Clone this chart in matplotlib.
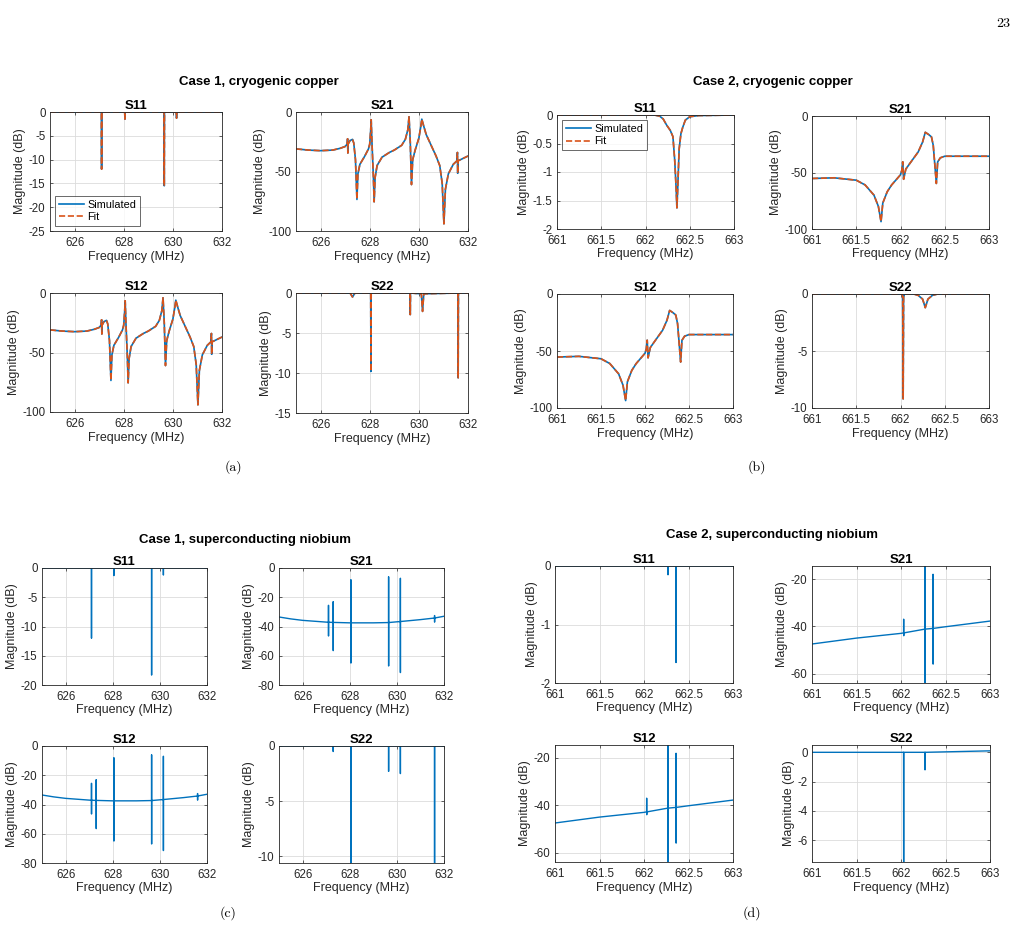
import matplotlib
matplotlib.use("Agg")
import matplotlib.pyplot as plt
from matplotlib.ticker import FuncFormatter

plt.rcParams['font.family'] = ['Liberation Sans', 'DejaVu Sans']
plt.rcParams['axes.unicode_minus'] = False

BLUE = '#0072BD'
ORANGE = '#D95319'
W, H = 1018, 932

# ---- Case 1, cryogenic copper ----
s11_cu1_f = [625.0, 627.09, 627.10, 627.11, 628.04, 628.05, 628.06, 629.64, 629.65, 629.66,
             630.14, 630.15, 630.16, 632.0]
s11_cu1_db = [0, 0, -12.0, 0, 0, -1.5, 0, 0, -15.5, 0, 0, -1.3, 0, 0]

s21_cu1_f = [625.0, 625.5, 626.0, 626.5, 626.8, 627.0, 627.08, 627.1, 627.11, 627.12, 627.2,
             627.3, 627.35, 627.42, 627.48, 627.52, 627.6, 627.8, 627.95, 628.0, 628.04,
             628.06, 628.09, 628.15, 628.18, 628.22, 628.3, 628.5, 628.8, 629.0, 629.3,
             629.45, 629.55, 629.6, 629.65, 629.7, 629.75, 629.85, 630.0, 630.08, 630.12,
             630.2, 630.3, 630.5, 630.7, 630.85, 630.95, 631.02, 631.08, 631.2, 631.4,
             631.55, 631.57, 631.58, 631.6, 631.8, 632.0]
s21_cu1_db = [-31, -32, -32.5, -32, -30.5, -29, -27, -22.5, -34.5, -27, -24,
              -23, -26, -40, -73.5, -52, -44, -37, -31, -27, -15,
              -6.5, -25, -55, -75.5, -55, -45, -38, -34, -32, -28,
              -23, -15, -4, -25, -61, -40, -32, -22, -12, -6,
              -12, -19, -28, -37, -45, -60, -94, -65, -52, -44,
              -41, -34, -51.5, -41, -39, -37]
# reciprocal network: S12 equals S21
s12_cu1_f = s21_cu1_f
s12_cu1_db = s21_cu1_db

s22_cu1_f = [625.0, 627.2, 627.3, 627.4, 628.04, 628.05, 628.06, 629.64, 629.65, 629.66,
             630.1, 630.15, 630.2, 631.59, 631.6, 631.61, 632.0]
s22_cu1_db = [0, 0, -0.5, 0, 0, -9.8, 0, 0, -2.7, 0, -0.1, -2.3, -0.1, 0, -10.6, 0, 0]

# ---- Case 2, cryogenic copper ----
s11_cu2_f = [661.0, 662.1, 662.16, 662.2, 662.24, 662.28, 662.31, 662.33, 662.345, 662.355,
             662.365, 662.38, 662.4, 662.42, 662.45, 662.5, 662.6, 663.0]
s11_cu2_db = [0, 0, -0.02, -0.07, -0.18, -0.27, -0.38, -0.79, -1.25, -1.63,
              -1.25, -0.6, -0.33, -0.22, -0.09, -0.03, -0.01, 0]

s21_cu2_f = [661.0, 661.25, 661.5, 661.6, 661.7, 661.75, 661.78, 661.8, 661.85, 661.9,
             662.0, 662.015, 662.025, 662.035, 662.06, 662.1, 662.2, 662.25, 662.28, 662.32,
             662.35, 662.37, 662.39, 662.405, 662.42, 662.45, 662.5, 663.0]
s21_cu2_db = [-55.3, -54.7, -56.8, -61, -70, -80, -93.5, -77, -67, -61,
              -52, -48, -40.5, -56, -47, -42.6, -31.8, -23, -14.4, -16.5,
              -18.5, -26, -45, -59.7, -40.6, -37, -35.6, -35.6]
s12_cu2_f = s21_cu2_f
s12_cu2_db = s21_cu2_db

s22_cu2_f = [661.0, 662.02, 662.025, 662.03, 662.035, 662.045, 662.15, 662.2, 662.25, 662.28,
             662.31, 662.36, 662.42, 663.0]
s22_cu2_db = [0, 0, -0.3, -9.2, -0.3, 0, 0, -0.12, -0.45, -1.2, -0.45, -0.12, 0, 0]

# ---- Case 1, superconducting niobium ----
s11_nb1_f = [625.0, 627.099, 627.1, 627.101, 628.049, 628.05, 628.051, 629.649, 629.65, 629.651,
             630.149, 630.15, 630.151, 632.0]
s11_nb1_db = [0, 0, -12.0, 0, 0, -1.3, 0, 0, -18.3, 0, 0, -1.2, 0, 0]

s21_nb1_f = [625.0, 625.5, 626.0, 627.0, 627.099, 627.1, 627.101, 627.102, 627.299, 627.3,
             627.301, 627.302, 628.0, 628.049, 628.05, 628.051, 628.052, 629.0, 629.649, 629.65,
             629.651, 629.652, 630.0, 630.149, 630.15, 630.151, 630.152, 631.0, 631.599, 631.6,
             631.601, 631.602, 632.0]
s21_nb1_db = [-33.5, -34.8, -35.8, -37.0, -37.1, -25.5, -46.5, -37.1, -37.2, -23.0,
              -56.5, -37.2, -37.5, -37.5, -8.0, -65.0, -37.5, -37.5, -37.3, -6.0,
              -67.0, -37.3, -36.8, -36.6, -7.0, -71.5, -36.6, -35.3, -34.2, -32.5,
              -37.0, -34.2, -33.0]
s12_nb1_f = s21_nb1_f
s12_nb1_db = s21_nb1_db

s22_nb1_f = [625.0, 627.299, 627.3, 627.301, 628.049, 628.05, 628.051, 629.649, 629.65, 629.651,
             630.149, 630.15, 630.151, 631.599, 631.6, 631.601, 632.0]
s22_nb1_db = [0, 0, -0.5, 0, 0, -20, 0, 0, -2.3, 0, 0, -2.5, 0, 0, -20, 0, 0]

# ---- Case 2, superconducting niobium ----
s11_nb2_f = [661.0, 662.269, 662.27, 662.271, 662.359, 662.36, 662.361, 663.0]
s11_nb2_db = [0, 0, -0.15, 0, 0, -1.65, 0, 0]

s21_nb2_f = [661.0, 661.5, 662.0, 662.029, 662.03, 662.031, 662.032, 662.269, 662.27, 662.271,
             662.272, 662.359, 662.36, 662.361, 662.362, 662.5, 663.0]
s21_nb2_db = [-47.5, -45.0, -43.0, -42.8, -37.0, -44.0, -42.8, -41.2, -10.0, -70.0,
              -41.2, -40.9, -18.0, -56.0, -40.9, -40.2, -37.8]
s12_nb2_f = s21_nb2_f
s12_nb2_db = s21_nb2_db

s22_nb2_f = [661.0, 662.029, 662.03, 662.031, 662.269, 662.27, 662.271, 663.0]
s22_nb2_db = [0, 0, -10, 0, 0, -1.2, 0, 0.1]

fig = plt.figure(figsize=(W / 100, H / 100), dpi=100)


def add_ax(l, t, r, b):
    return fig.add_axes([l / W, 1 - b / H, (r - l) / W, (b - t) / H])


def style(ax, title, xlim, xticks, ylim, yticks):
    ax.set_xlim(xlim)
    ax.set_ylim(ylim)
    ax.set_xticks(xticks)
    ax.set_yticks(yticks)
    fmt = FuncFormatter(lambda v, p: '%g' % v)
    ax.xaxis.set_major_formatter(fmt)
    ax.yaxis.set_major_formatter(fmt)
    ax.grid(True, color='#dcdcdc', lw=0.6)
    ax.set_axisbelow(True)
    ax.tick_params(direction='in', length=2.5, width=0.5, labelsize=8.3,
                   colors='#262626', top=True, right=True)
    ax.tick_params(axis='x', pad=4.2)
    ax.tick_params(axis='y', pad=3.2)
    for s in ax.spines.values():
        s.set_color('#262626')
        s.set_linewidth(0.6)
    ax.set_title(title, fontsize=9.5, fontweight='bold', pad=2)
    ax.set_xlabel('Frequency (MHz)', fontsize=9, color='#262626', labelpad=1.2)
    ax.set_ylabel('Magnitude (dB)', fontsize=9, color='#262626', labelpad=2)


def add_legend(ax, loc):
    leg = ax.legend(loc=loc, fontsize=7.8, frameon=True, fancybox=False,
                    handlelength=2.3, borderpad=0.35, labelspacing=0.2, handletextpad=0.3,
                    borderaxespad=0.5)
    leg.get_frame().set_edgecolor('#262626')
    leg.get_frame().set_linewidth(0.6)


cu1_x = dict(xlim=(625, 632), xticks=[626, 628, 630, 632])
cu2_x = dict(xlim=(661, 663), xticks=[661, 661.5, 662, 662.5, 663])

# (a)
ax = add_ax(50, 112, 222, 231)
ax.plot(s11_cu1_f, s11_cu1_db, color=BLUE, lw=1.2, label='Simulated')
ax.plot(s11_cu1_f, s11_cu1_db, color=ORANGE, lw=1.2, ls='--', label='Fit')
style(ax, 'S11', ylim=(-25, 0), yticks=[-25, -20, -15, -10, -5, 0], **cu1_x)
add_legend(ax, 'lower left')

for (l, t, r, b), name, f, d, yl, yt in [
        ((296, 112, 468, 231), 'S21', s21_cu1_f, s21_cu1_db, (-100, 0), [-100, -50, 0]),
        ((50, 293, 222, 412), 'S12', s12_cu1_f, s12_cu1_db, (-100, 0), [-100, -50, 0]),
        ((296, 293, 468, 413), 'S22', s22_cu1_f, s22_cu1_db, (-15, 0), [-15, -10, -5, 0])]:
    ax = add_ax(l, t, r, b)
    ax.plot(f, d, color=BLUE, lw=1.2)
    ax.plot(f, d, color=ORANGE, lw=1.2, ls='--')
    style(ax, name, ylim=yl, yticks=yt, **cu1_x)

# (b)
ax = add_ax(557, 115, 734, 229)
ax.plot(s11_cu2_f, s11_cu2_db, color=BLUE, lw=1.2, label='Simulated')
ax.plot(s11_cu2_f, s11_cu2_db, color=ORANGE, lw=1.2, ls='--', label='Fit')
style(ax, 'S11', ylim=(-2, 0), yticks=[-2, -1.5, -1, -0.5, 0], **cu2_x)
add_legend(ax, 'upper left')

for (l, t, r, b), name, f, d, yl, yt in [
        ((812, 116, 989, 229), 'S21', s21_cu2_f, s21_cu2_db, (-100, 0), [-100, -50, 0]),
        ((557, 294, 733, 408), 'S12', s12_cu2_f, s12_cu2_db, (-100, 0), [-100, -50, 0]),
        ((812, 294, 989, 408), 'S22', s22_cu2_f, s22_cu2_db, (-10, 0), [-10, -5, 0])]:
    ax = add_ax(l, t, r, b)
    ax.plot(f, d, color=BLUE, lw=1.2)
    ax.plot(f, d, color=ORANGE, lw=1.2, ls='--')
    style(ax, name, ylim=yl, yticks=yt, **cu2_x)

# (c)
for (l, t, r, b), name, f, d, yl, yt in [
        ((42, 568, 207, 685), 'S11', s11_nb1_f, s11_nb1_db, (-20, 0), [-20, -15, -10, -5, 0]),
        ((279, 568, 444, 685), 'S21', s21_nb1_f, s21_nb1_db, (-80, 0), [-80, -60, -40, -20, 0]),
        ((42, 746, 207, 863), 'S12', s12_nb1_f, s12_nb1_db, (-80, 0), [-80, -60, -40, -20, 0]),
        ((279, 746, 444, 863), 'S22', s22_nb1_f, s22_nb1_db, (-10.6, 0), [-10, -5, 0])]:
    ax = add_ax(l, t, r, b)
    ax.plot(f, d, color=BLUE, lw=1.0)
    style(ax, name, ylim=yl, yticks=yt, **cu1_x)

# (d)
for (l, t, r, b), name, f, d, yl, yt in [
        ((555, 566, 733, 683), 'S11', s11_nb2_f, s11_nb2_db, (-2, 0), [-2, -1, 0]),
        ((812, 566, 990, 683), 'S21', s21_nb2_f, s21_nb2_db, (-64, -14.5), [-60, -40, -20]),
        ((555, 745, 733, 862), 'S12', s12_nb2_f, s12_nb2_db, (-64, -14.5), [-60, -40, -20]),
        ((812, 745, 990, 862), 'S22', s22_nb2_f, s22_nb2_db, (-7.5, 0.5), [-6, -4, -2, 0])]:
    ax = add_ax(l, t, r, b)
    ax.plot(f, d, color=BLUE, lw=1.0)
    style(ax, name, ylim=yl, yticks=yt, **cu2_x)

# group titles and captions
for x, y, s in [(259, 82, 'Case 1, cryogenic copper'), (773, 82, 'Case 2, cryogenic copper'),
                (245, 540, 'Case 1, superconducting niobium'),
                (772, 535, 'Case 2, superconducting niobium')]:
    fig.text(x / W, 1 - y / H, s, ha='center', va='center', fontsize=9.5, fontweight='bold')

for x, y, s in [(233, 467, '(a)'), (757, 467, '(b)'), (228, 913, '(c)'), (752, 913, '(d)')]:
    fig.text(x / W, 1 - y / H, s, ha='center', va='center', fontsize=10, family='cmr10')
fig.text(1003 / W, 1 - 24 / H, '23', ha='center', va='center', fontsize=10, family='cmr10')

fig.savefig('out.png', dpi=100)
